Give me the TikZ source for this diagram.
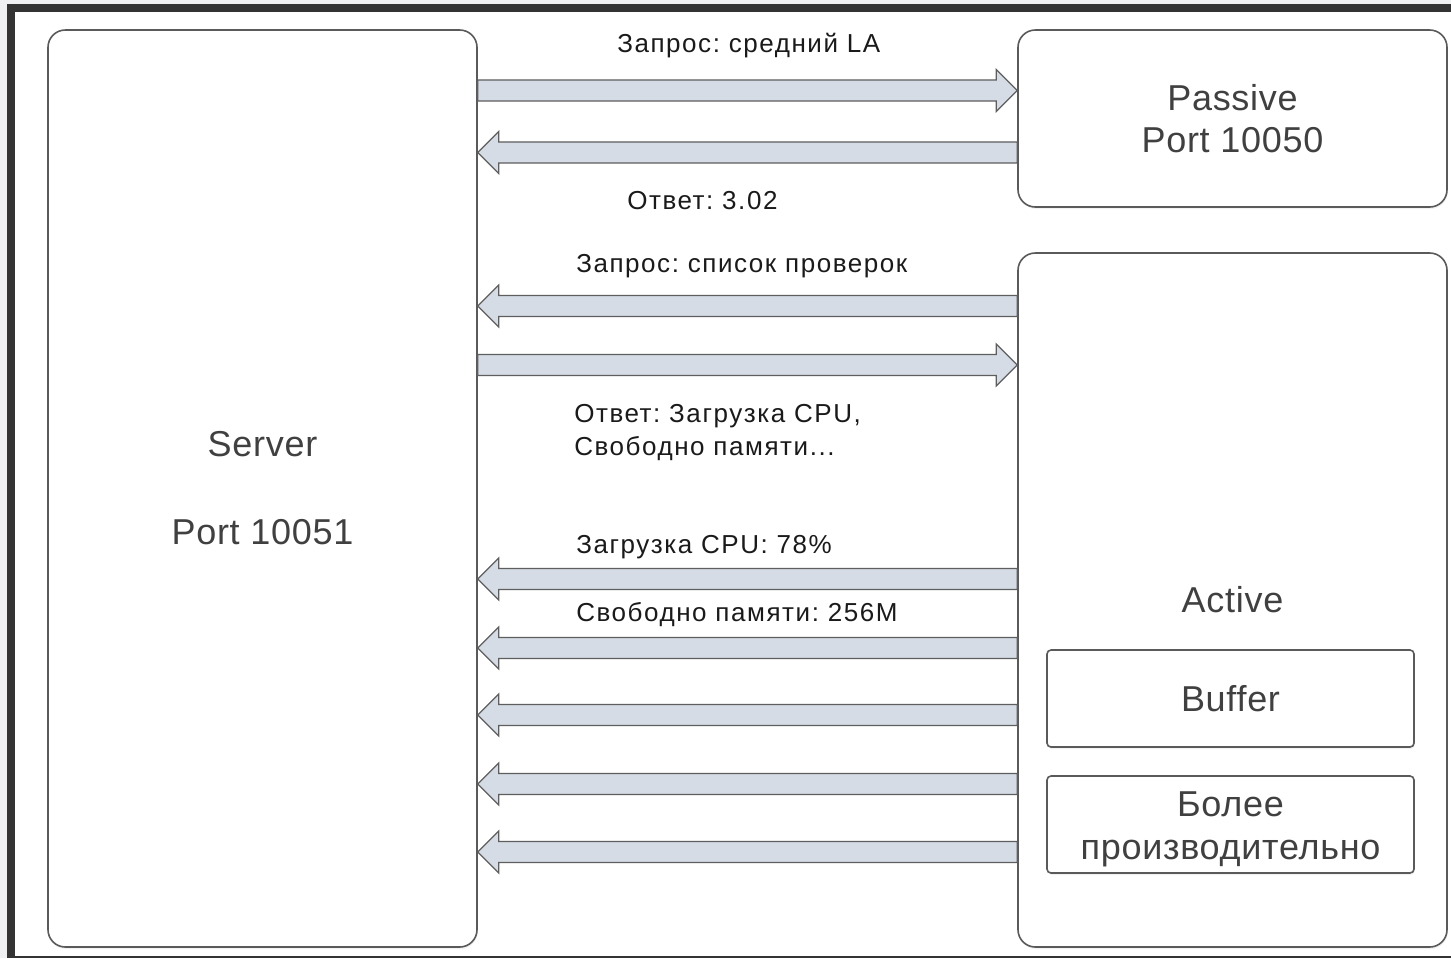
\documentclass[tikz,border=0pt]{standalone}
\usepackage{fontspec}
\setmainfont{Liberation Sans}
\newfontfamily\lblfont[LetterSpace=6]{Liberation Sans}
\newfontfamily\boxfont[LetterSpace=2]{Liberation Sans}
\usetikzlibrary{calc,shadows}
\definecolor{frameDark}{HTML}{333333}
\definecolor{pageGray}{HTML}{EEF0F1}
\definecolor{boxLine}{HTML}{5A5A5A}
\definecolor{boxText}{HTML}{404040}
\definecolor{labelText}{HTML}{1A1A1A}
\definecolor{flowFill}{HTML}{D6DCE5}
\definecolor{flowLine}{HTML}{5E5E5E}

% fat block arrow from #1 to #2 (same height)
\newcommand{\fatarrow}[2]{%
  \draw[flow] let \p1=(#1), \p2=(#2), \p3=($(#2)!15.75pt!(#1)$) in
    (\x1,\y1+7.9pt) -- (\x3,\y1+7.9pt) -- (\x3,\y1+15.75pt) -- (\x2,\y2)
    -- (\x3,\y1-15.75pt) -- (\x3,\y1-7.9pt) -- (\x1,\y1-7.9pt) -- cycle;}

\begin{document}
\frenchspacing
\begin{tikzpicture}[
    x=0.75pt, y=-0.75pt,
    box/.style={draw=boxLine,line width=1.2pt,fill=white,rounded corners=13pt,
      text=boxText,font=\boxfont\fontsize{27}{32}\selectfont,align=center,inner sep=0pt,
      drop shadow={shadow xshift=0.6pt,shadow yshift=-1.5pt,opacity=0.1}},
    subbox/.style={box,rounded corners=3pt},
    lbl/.style={anchor=base west,inner sep=0pt,text=labelText,
      font=\lblfont\fontsize{19.5}{24.75}\selectfont,align=left},
    flow/.style={draw=flowLine,fill=flowFill,line width=0.9pt,line join=miter}
  ]
  \useasboundingbox (0,0) rectangle (1451,958);
  %% screenshot frame
  \fill[pageGray] (0,0) rectangle (1451,958);
  \fill[frameDark] (7,4) rectangle (1451,958);
  \fill[white] (15,12) rectangle (1451,956);
  %% Boxes
  \node[box,minimum width=321.75pt,minimum height=687.75pt] (server) at (262.5,488.5)
    {Server\\[34pt]Port 10051};
  \node[box,minimum width=321.75pt,minimum height=132.75pt] (passive) at (1232.5,118.5)
    {Passive\\Port 10050};
  \node[box,minimum width=321.75pt,minimum height=520.5pt] (active) at (1232.5,600)
    {Active};
  \node[subbox,minimum width=275.25pt,minimum height=72.75pt] (buffer) at (1230.5,698.5)
    {Buffer};
  \node[subbox,minimum width=275.25pt,minimum height=72.75pt] (faster) at (1230.5,824.5)
    {\rule{0pt}{26pt}Более\\производительно};
  %% Passive check
  \coordinate (y1) at (0,90.5);
  \coordinate (y2) at (0,152.5);
  \fatarrow{server.east |- y1}{passive.west |- y1}
  \fatarrow{passive.west |- y2}{server.east |- y2}
  \node[lbl] (reqla) at (617,52) {Запрос: средний LA};
  \node[lbl] (ansla) at (627,209) {Ответ: 3.02};
  %% Active checks
  \coordinate (y3) at (0,306);
  \coordinate (y4) at (0,365);
  \fatarrow{active.west |- y3}{server.east |- y3}
  \fatarrow{server.east |- y4}{active.west |- y4}
  \node[lbl] (reqlist) at (576,272) {Запрос: список проверок};
  \node[lbl] (anslist) at (574,455) {Ответ: Загрузка CPU,\\Свободно памяти...};
  %% Buffered values
  \foreach \row/\yy in {5/579,6/648,7/715,8/784,9/852}{
    \coordinate (y\row) at (0,\yy);
    \fatarrow{active.west |- y\row}{server.east |- y\row}
  }
  \node[lbl] (cpu) at (576,553) {Загрузка CPU: 78\%};
  \node[lbl] (mem) at (576,621) {Свободно памяти: 256M};
\end{tikzpicture}
\end{document}
